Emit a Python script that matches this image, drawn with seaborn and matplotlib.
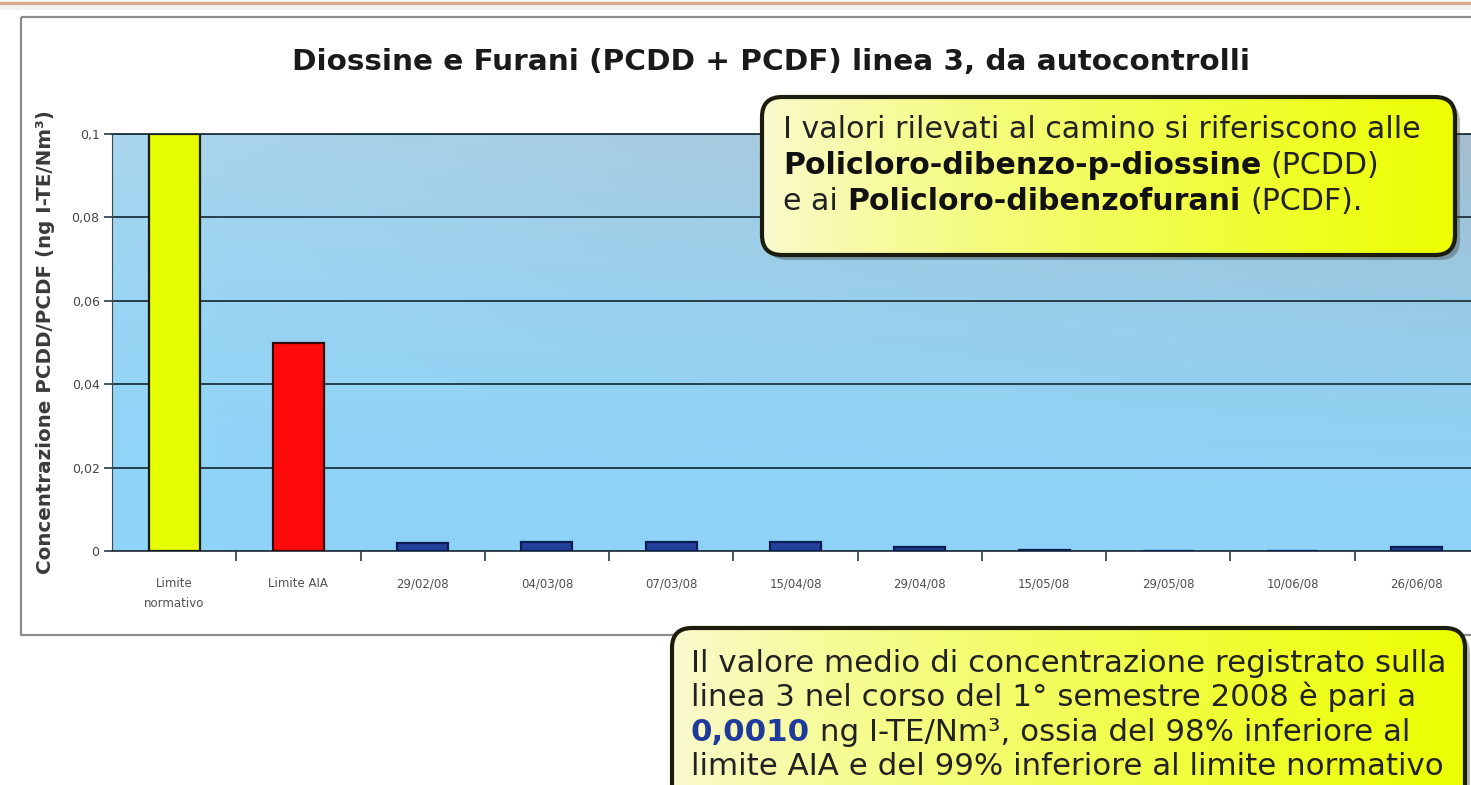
import numpy as np
import pandas as pd
import matplotlib
matplotlib.use("Agg")
import matplotlib.pyplot as plt
import seaborn as sns
from matplotlib.patches import FancyBboxPatch, Rectangle
from matplotlib.lines import Line2D

# ---------------- data ----------------
categories = ["Limite\nnormativo", "Limite AIA", "29/02/08", "04/03/08", "07/03/08",
              "15/04/08", "29/04/08", "15/05/08", "29/05/08", "10/06/08", "26/06/08"]
values = [0.1, 0.05, 0.0019, 0.0022, 0.0022, 0.0022, 0.0009, 0.0003, 0.0, 0.0, 0.0009]
y_ticks = [0, 0.02, 0.04, 0.06, 0.08, 0.1]
y_tick_labels = ["0", "0,02", "0,04", "0,06", "0,08", "0,1"]
title = "Diossine e Furani (PCDD + PCDF) linea 3, da autocontrolli"
ylabel = "Concentrazione PCDD/PCDF (ng I-TE/Nm³)"

bar_colors = ["#e6ff00", "#ff0a0a"] + ["#22409c"] * 9
edge_colors = ["#1a1a10", "#3a0505"] + ["#0b1c4e"] * 9

box1_lines = [
    [("I valori rilevati al camino si riferiscono alle", "normal", "#222222")],
    [("Policloro-dibenzo-p-diossine", "bold", "#111111"), (" (PCDD)", "normal", "#222222")],
    [("e ai ", "normal", "#222222"), ("Policloro-dibenzofurani", "bold", "#111111"),
     (" (PCDF).", "normal", "#222222")],
]
box2_lines = [
    [("Il valore medio di concentrazione registrato sulla", "normal", "#222222")],
    [("linea 3 nel corso del 1° semestre 2008 è pari a", "normal", "#222222")],
    [("0,0010", "bold", "#1f3a9a"), (" ng I-TE/Nm³, ossia del 98% inferiore al", "normal", "#222222")],
    [("limite AIA e del 99% inferiore al limite normativo", "normal", "#222222")],
]

# ---------------- figure ----------------
W, H = 1471, 785
fig = plt.figure(figsize=(W / 100, H / 100), dpi=100)
fig.patch.set_facecolor("white")

def fx(px):
    return px / W

def fy(py):
    return 1 - py / H

ax = fig.add_axes([fx(112), fy(551), (1479 - 112) / W, (551 - 134) / H])
df = pd.DataFrame({"cat": categories, "val": values})
sns.barplot(data=df, x="cat", y="val", hue="cat", palette=bar_colors, width=0.41,
            legend=False, ax=ax, zorder=3, saturation=1)
for p, ec in zip(ax.patches, edge_colors):
    p.set_edgecolor(ec)
    p.set_linewidth(1.6)

# background gradient of the plot area
ny, nx = 100, 200
t = np.linspace(0, 1, ny)[:, None]
s = np.linspace(0, 1, nx)[None, :]
bottom = np.array([0x8e, 0xd4, 0xf8]) / 255
top_l = np.array([0xa9, 0xd6, 0xee]) / 255
top_r = np.array([0xa6, 0xbd, 0xcc]) / 255
top = top_l[None, None, :] * (1 - s[..., None]) + top_r[None, None, :] * s[..., None]
w = (t ** 1.6)[..., None]
grad = bottom[None, None, :] * (1 - w) + top * w
ax.imshow(grad, extent=(-0.5, 10.5, 0, 0.1), aspect="auto", origin="lower", zorder=0.1)

ax.set_xlim(-0.5, 10.5)
ax.set_ylim(0, 0.1)
ax.set_yticks(y_ticks)
ax.set_yticklabels(y_tick_labels)
ax.yaxis.grid(True, color="#1d3340", lw=1.3)
ax.set_axisbelow(True)
ax.xaxis.grid(False)
for sp in ["right"]:
    ax.spines[sp].set_visible(False)
ax.spines["top"].set_color("#1d3340")
ax.spines["top"].set_linewidth(1.3)
ax.spines["left"].set_color("#3a4a55")
ax.spines["bottom"].set_color("#2a3a45")
ax.spines["bottom"].set_linewidth(1.3)
ax.set_xlabel("")
ax.set_ylabel("")
ax.set_xticks(np.arange(0.5, 10.5, 1), minor=True)
ax.tick_params(axis="x", which="major", length=0, pad=19, labelsize=8.5, labelcolor="#505050")
ax.tick_params(axis="x", which="minor", length=7, width=1.2, color="#2a3a45", direction="out")
ax.tick_params(axis="y", length=6, width=1.2, color="#2a3a45", pad=3, labelsize=9, labelcolor="#454545")
for lbl in ax.get_xticklabels():
    lbl.set_linespacing(1.7)

# ---------------- overlay ----------------
ov = fig.add_axes([0, 0, 1, 1])
ov.set_zorder(5)
ov.patch.set_alpha(0)
ov.axis("off")

renderer = fig.canvas.get_renderer()

def meas(txt, fs, weight):
    tt = ov.text(0, 0, txt, fontsize=fs, weight=weight)
    bb = tt.get_window_extent(renderer)
    tt.remove()
    return bb.width

def adv(txt, fs, weight):
    return meas("|" + txt + "|", fs, weight) - meas("||", fs, weight)

def fit_fs(txt, target, fs0, weight):
    return fs0 * target / meas(txt, fs0, weight)

# outer chart frame and slide line
ov.add_patch(Rectangle((21, 17), W, 618, fill=False, ec="#8c8c8c", lw=1.6, zorder=1))
ov.add_line(Line2D([0, W], [3, 3], color="#d9a88e", lw=2.5, zorder=1))
ov.add_line(Line2D([0, W], [8, 8], color="#eef3f3", lw=3, zorder=1))

# title
fs_t = fit_fs(title, 958, 16, "bold")
ov.text(771, 62, title, fontsize=fs_t, weight="bold", color="#1a1a1a", ha="center", va="center")

# y label
fs_y = fit_fs(ylabel, 462, 12, "bold")
ov.text(46, 342, ylabel, fontsize=fs_y, weight="bold", color="#3a3a3a", rotation=90,
        ha="center", va="center")

def callout(x0, y0, x1, y1):
    wdt, hgt = x1 - x0, y1 - y0
    style = "round,pad=0,rounding_size=20"
    sh = FancyBboxPatch((x0 + 5, y0 + 5), wdt, hgt, boxstyle=style, fc="#303030",
                        alpha=0.35, ec="none", zorder=2)
    ov.add_patch(sh)
    clip = FancyBboxPatch((x0, y0), wdt, hgt, boxstyle=style, fc="none", ec="none", zorder=2)
    ov.add_patch(clip)
    g = np.linspace(0, 1, 256)[None, :]
    c0 = np.array([0xfa, 0xfa, 0xd2]) / 255
    c1 = np.array([0xec, 0xff, 0x00]) / 255
    gg = (g ** 0.8)[..., None]
    img = c0[None, None, :] * (1 - gg) + c1[None, None, :] * gg
    im = ov.imshow(img, extent=(x0, x1, y1, y0), aspect="auto", zorder=3)
    im.set_clip_path(clip)
    ov.add_patch(FancyBboxPatch((x0, y0), wdt, hgt, boxstyle=style, fc="none",
                                ec="#1c1c0c", lw=3, zorder=4))

def rich(x, yc, segs, fs):
    cur = x
    base = yc + 0.36 * fs * 100 / 72
    for txt, wt, col in segs:
        stripped = txt.lstrip(" ")
        lead = txt[: len(txt) - len(stripped)]
        off = adv(lead, fs, wt) if lead else 0
        ov.text(cur + off, base, stripped.rstrip(" "), fontsize=fs, weight=wt, color=col,
                ha="left", va="baseline", zorder=6)
        cur += adv(txt, fs, wt)

callout(762, 97, 1455, 255)
fs1 = fit_fs(box1_lines[0][0][0], 637, 16, "normal")
for yc, segs in zip([127, 163, 199], box1_lines):
    rich(783, yc, segs, fs1)

callout(672, 628, 1465, 830)
fs2 = fit_fs(box2_lines[0][0][0], 758, 16, "normal")
for yc, segs in zip([661, 695, 730, 764], box2_lines):
    rich(691, yc, segs, fs2)

ov.set_xlim(0, W)
ov.set_ylim(H, 0)

fig.savefig("out.png", dpi=100)
